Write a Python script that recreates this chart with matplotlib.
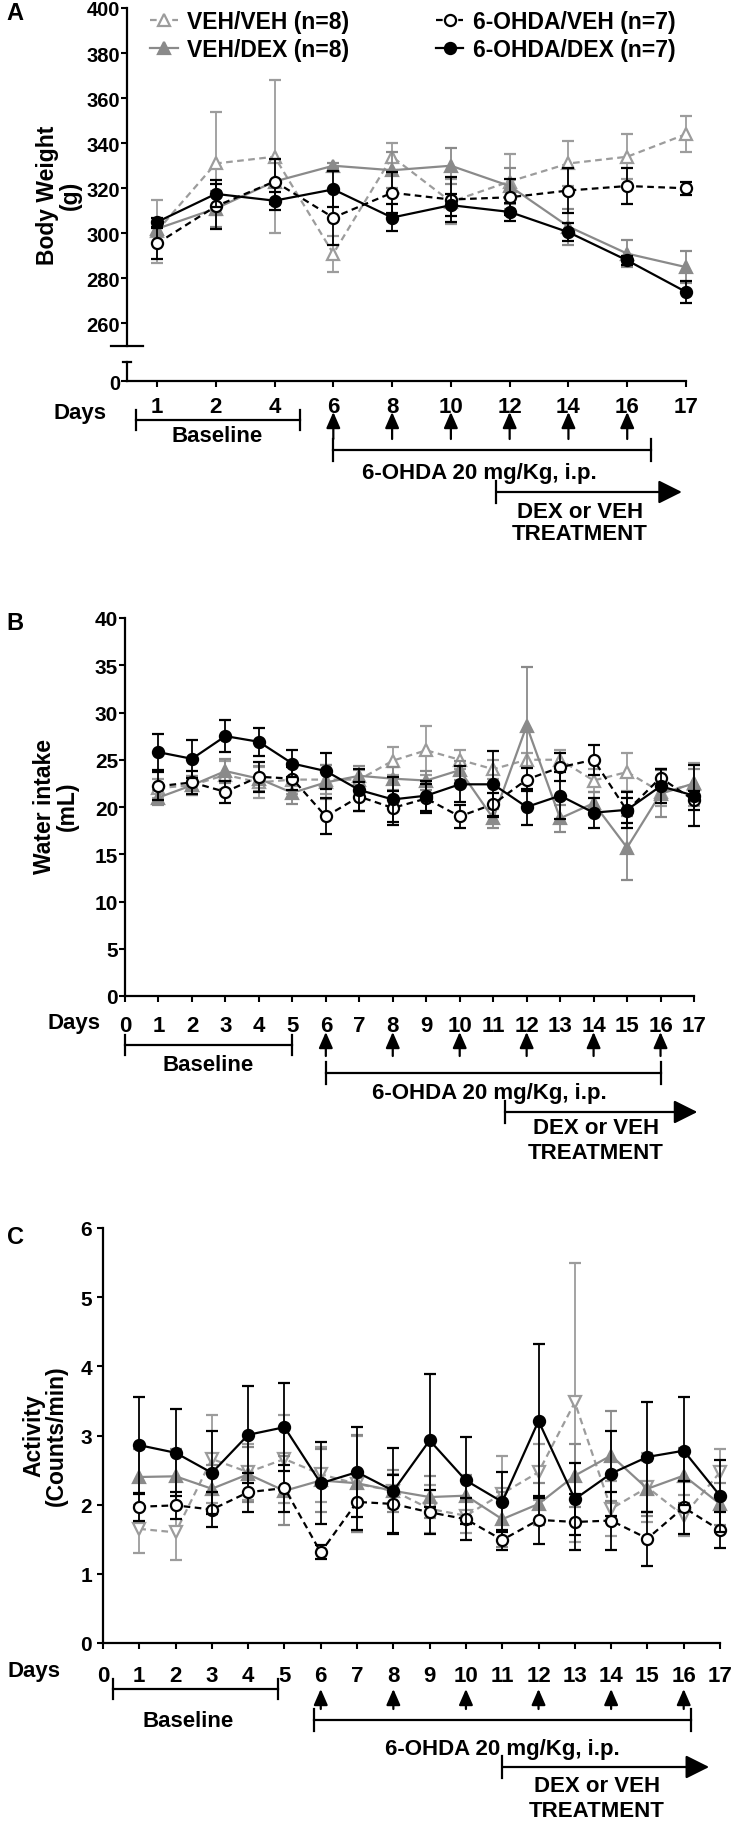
import matplotlib
matplotlib.use("Agg")
import matplotlib.pyplot as plt
from matplotlib.lines import Line2D

plt.rcParams['font.family'] = ['Liberation Sans', 'DejaVu Sans']
plt.rcParams['font.weight'] = 'bold'

# ---- data ----
labels = ['VEH/VEH (n=8)', 'VEH/DEX (n=8)', '6-OHDA/VEH (n=7)', '6-OHDA/DEX (n=7)']

# A: body weight (g)
days_a = [1, 2, 4, 6, 8, 10, 12, 14, 16, 17]
veh_veh_a = [301, 331, 334, 291, 334, 314, 323, 331, 334, 344]
veh_veh_a_err = [14, 23, 34, 8, 6, 10, 12, 10, 10, 8]
veh_dex_a = [302, 311, 323, 330, 328, 330, 321, 303, 291, 285]
veh_dex_a_err = [3, 8, 10, 1, 8, 8, 8, 8, 6, 7]
ohda_veh_a = [295.5, 312, 323, 307, 318, 315, 316, 319, 321, 320]
ohda_veh_a_err = [7, 10, 10, 12, 9, 10, 8, 10, 8, 3]
ohda_dex_a = [305, 317.5, 314.5, 319.5, 307, 312.5, 309.5, 300.5, 288, 274]
ohda_dex_a_err = [2, 6, 4, 8, 6, 5, 4, 4, 2, 5]

# B: water intake (mL)
days_b = list(range(1, 18))
veh_veh_b = [22.0, 22.3, 23.4, 22.6, 22.9, 22.9, 22.9, 24.9, 26.0, 25.0, 24.0, 25.0, 25.0, 22.8, 23.7, 21.6, 22.4]
veh_veh_b_err = [1.0, 1.0, 1.5, 1.6, 1.5, 1.5, 1.0, 1.5, 2.6, 1.0, 1.0, 0.7, 1.0, 1.2, 2.0, 1.5, 2.3]
veh_dex_b = [21.0, 22.3, 23.8, 23.0, 21.5, 22.6, 23.3, 23.0, 22.8, 23.9, 18.8, 28.6, 18.8, 20.4, 15.7, 21.4, 22.5]
veh_dex_b_err = [0.8, 1.0, 1.3, 1.3, 1.2, 1.8, 1.0, 1.2, 1.0, 1.0, 1.0, 6.2, 1.4, 1.2, 3.4, 2.5, 1.5]
ohda_veh_b = [22.2, 22.6, 21.6, 23.2, 23.0, 19.0, 21.1, 19.9, 20.9, 19.0, 20.3, 22.9, 24.2, 25.0, 19.6, 23.1, 20.7]
ohda_veh_b_err = [1.5, 1.2, 1.2, 1.6, 1.2, 1.9, 1.5, 1.8, 1.5, 1.2, 1.2, 1.2, 1.5, 1.6, 1.3, 0.9, 1.0]
ohda_dex_b = [25.8, 25.1, 27.5, 26.9, 24.6, 23.8, 21.8, 20.8, 21.2, 22.4, 22.4, 20.0, 21.2, 19.4, 19.7, 22.2, 21.2]
ohda_dex_b_err = [1.9, 2.0, 1.7, 1.5, 1.4, 1.9, 2.2, 2.4, 1.6, 1.9, 3.5, 1.9, 2.5, 1.6, 1.9, 1.8, 3.2]

# C: activity (counts/min)
days_c = list(range(1, 18))
veh_veh_c = [1.65, 1.60, 2.66, 2.47, 2.66, 2.44, 2.30, 2.20, 1.94, 1.84, 2.16, 2.47, 3.48, 1.94, 2.25, 1.84, 2.47]
veh_veh_c_err = [0.35, 0.40, 0.64, 0.40, 0.64, 0.40, 0.70, 0.25, 0.35, 0.25, 0.54, 0.40, 2.02, 0.40, 0.50, 0.30, 0.33]
veh_dex_c = [2.40, 2.41, 2.23, 2.44, 2.20, 2.35, 2.31, 2.20, 2.11, 2.13, 1.79, 2.01, 2.42, 2.71, 2.23, 2.42, 2.01]
veh_dex_c_err = [0.40, 0.40, 0.35, 0.40, 0.50, 0.45, 0.70, 0.30, 0.30, 0.30, 0.40, 0.30, 0.45, 0.65, 0.40, 0.40, 0.30]
ohda_veh_c = [1.97, 1.99, 1.93, 2.18, 2.24, 1.31, 2.04, 2.01, 1.89, 1.79, 1.49, 1.78, 1.75, 1.77, 1.51, 1.96, 1.63]
ohda_veh_c_err = [0.20, 0.20, 0.26, 0.28, 0.34, 0.10, 0.40, 0.42, 0.32, 0.30, 0.15, 0.35, 0.40, 0.42, 0.39, 0.38, 0.26]
ohda_dex_c = [2.86, 2.75, 2.46, 3.01, 3.12, 2.31, 2.47, 2.20, 2.93, 2.35, 2.04, 3.21, 2.08, 2.45, 2.69, 2.78, 2.13]
ohda_dex_c_err = [0.70, 0.63, 0.60, 0.70, 0.64, 0.59, 0.65, 0.62, 0.96, 0.63, 0.43, 1.12, 0.52, 0.61, 0.79, 0.78, 0.52]

GRAY1 = '#9c9c9c'   # VEH/VEH
GRAY2 = '#8a8a8a'   # VEH/DEX
DASH = (0, (3, 2))
TXT = 16             # annotation / x tick text size

W, H = 739, 1831
fig = plt.figure(figsize=(W / 100, H / 100), dpi=100)


def add_ax(l, t, r, b):
    # pixel box -> figure fraction
    return fig.add_axes([l / W, 1 - b / H, (r - l) / W, (b - t) / H])


def ftext(x, y, s, **kw):
    fig.text(x / W, 1 - y / H, s, ha='center', va='center', **kw)


def series(ax, x, y, err, color, marker, dashed, filled, z):
    eb = ax.errorbar(x, y, yerr=err, color=color, ls=DASH if dashed else '-', lw=1.6,
                     marker=marker, ms=8, mfc=color if filled else 'white', mec=color,
                     mew=1.6, ecolor=color, elinewidth=1.3, capsize=4, capthick=1.3, zorder=z)
    line, caps, bars = eb.lines
    for a in (line,) + caps + bars:
        a.set_clip_on(False)


def style(ax, ysize=15):
    for s in ['top', 'right']:
        ax.spines[s].set_visible(False)
    for s in ['left', 'bottom']:
        ax.spines[s].set_linewidth(1.6)
    ax.tick_params(width=1.5, length=4, direction='out')
    ax.tick_params(axis='y', labelsize=ysize, pad=1)
    ax.tick_params(axis='x', labelsize=TXT)


def draw_all(ax, x, sets, vv_marker='^'):
    vv, vv_e, vd, vd_e, ov, ov_e, od, od_e = sets
    series(ax, x, vv, vv_e, GRAY1, vv_marker, True, False, 3)
    series(ax, x, vd, vd_e, GRAY2, '^', False, True, 4)
    series(ax, x, ov, ov_e, 'black', 'o', True, False, 5)
    series(ax, x, od, od_e, 'black', 'o', False, True, 6)


def bracket(ann, x0, x1, y, half):
    ann.plot([x0, x1], [y, y], color='black', lw=1.6, clip_on=False)
    for xx in (x0, x1):
        ann.plot([xx, xx], [y - half, y + half], color='black', lw=1.6, clip_on=False)


def up_arrow(ann, x, tail, tip):
    ann.annotate('', xy=(x, tip), xytext=(x, tail), annotation_clip=False,
                 arrowprops=dict(arrowstyle='-|>,head_length=0.8,head_width=0.35',
                                 lw=1.6, color='black', shrinkA=0, shrinkB=0, mutation_scale=12))


def dex_arrow(ann, x0, x1, y, half):
    ann.plot([x0, x0], [y - half, y + half], color='black', lw=1.6, clip_on=False)
    ann.annotate('', xy=(x1, y), xytext=(x0, y), annotation_clip=False,
                 arrowprops=dict(arrowstyle='-|>,head_length=0.9,head_width=0.45',
                                 lw=1.6, color='black', shrinkA=0, shrinkB=0, mutation_scale=16))


def annotations(ann, base, arrows, ohda, dex):
    # base: (x0, x1, y, tx, ty); ohda: (x0, x1, y, tx, ty); dex: (x0, x1, y, tx, ty1, ty2)
    bracket(ann, base[0], base[1], base[2], 10)
    ann.text(base[3], base[4], 'Baseline', ha='center', va='center', fontsize=TXT)
    for x, tail, tip in arrows:
        up_arrow(ann, x, tail, tip)
    bracket(ann, ohda[0], ohda[1], ohda[2], 11)
    ann.text(ohda[3], ohda[4], '6-OHDA 20 mg/Kg, i.p.', ha='center', va='center', fontsize=TXT)
    dex_arrow(ann, dex[0], dex[1], dex[2], 11)
    ann.text(dex[3], dex[4], 'DEX or VEH', ha='center', va='center', fontsize=TXT)
    ann.text(dex[3], dex[5], 'TREATMENT', ha='center', va='center', fontsize=TXT)


# ================= Panel A =================
xa = list(range(len(days_a)))
xlim_a = (-0.51, len(days_a) - 1)
axA = add_ax(127, 9, 686, 347)
axA_low = add_ax(127, 363, 686, 382)
draw_all(axA, xa, (veh_veh_a, veh_veh_a_err, veh_dex_a, veh_dex_a_err,
                    ohda_veh_a, ohda_veh_a_err, ohda_dex_a, ohda_dex_a_err))
axA.set_xlim(*xlim_a)
axA.set_ylim(250, 400)
axA.set_yticks(range(260, 401, 20))
style(axA, 14.5)
axA.spines['bottom'].set_visible(False)
axA.set_xticks([])
axA.plot([-0.028, 0.028], [0, 0], transform=axA.transAxes, color='black', lw=1.6, clip_on=False)

axA_low.set_xlim(*xlim_a)
axA_low.set_ylim(0, 8.4)
axA_low.set_yticks([0])
axA_low.set_xticks(xa)
axA_low.set_xticklabels([str(d) for d in days_a])
style(axA_low, 14.5)
axA_low.tick_params(axis='x', pad=7)
axA_low.plot([-0.008, 0.008], [1, 1], transform=axA_low.transAxes, color='black', lw=1.6, clip_on=False)

handles = [
    Line2D([], [], color=GRAY1, ls=DASH, lw=1.6, marker='^', ms=8, mfc='white', mew=1.6),
    Line2D([], [], color=GRAY2, ls='-', lw=1.6, marker='^', ms=8, mew=1.6),
    Line2D([], [], color='black', ls=DASH, lw=1.6, marker='o', ms=8, mfc='white', mew=1.6),
    Line2D([], [], color='black', ls='-', lw=1.6, marker='o', ms=8, mew=1.6),
]
axA.legend(handles, labels, ncol=2, loc='upper left', bbox_to_anchor=(150 / W, 1 - 11 / H),
           bbox_transform=fig.transFigure, frameon=False, fontsize=16.5, handlelength=1.2,
           handletextpad=0.4, columnspacing=3.8, labelspacing=0.2, borderpad=0, borderaxespad=0)

ftext(59, 195, 'Body Weight\n(g)', rotation=90, fontsize=16.5, linespacing=1.0)
ftext(80, 413, 'Days', fontsize=TXT)
ftext(15, 14, 'A', fontsize=17)

annA = add_ax(127, 383, 686, 545)
annA.set_xlim(*xlim_a)
annA.set_ylim(545, 383)
annA.axis('off')
annotations(annA, (-0.36, 2.43, 421, 1.03, 437),
            [(i, 440, 413) for i in range(3, 9)],
            (3, 8.4, 451, 5.49, 474),
            (5.77, 8.93, 493, 7.19, 512, 535))

# ================= Panel B =================
axB = add_ax(125, 619, 694, 997)
draw_all(axB, days_b, (veh_veh_b, veh_veh_b_err, veh_dex_b, veh_dex_b_err,
                       ohda_veh_b, ohda_veh_b_err, ohda_dex_b, ohda_dex_b_err))
axB.set_xlim(0, 17)
axB.set_ylim(0, 40)
axB.set_yticks(range(0, 41, 5))
axB.set_xticks(range(0, 18))
style(axB, 15)
axB.tick_params(axis='x', pad=10)
ftext(56, 806, 'Water intake\n(mL)', rotation=90, fontsize=16.5, linespacing=1.0)
ftext(74, 1023, 'Days', fontsize=TXT)
ftext(15, 624, 'B', fontsize=17)

annB = add_ax(125, 998, 694, 1170)
annB.set_xlim(0, 17)
annB.set_ylim(1170, 998)
annB.axis('off')
annotations(annB, (0, 5, 1046, 2.48, 1066),
            [(d, 1057, 1033) for d in range(6, 17, 2)],
            (6, 16, 1074, 10.9, 1094),
            (11.35, 17.1, 1113, 14.07, 1129, 1154))

# ================= Panel C =================
axC = add_ax(103, 1229, 720, 1644)
draw_all(axC, days_c, (veh_veh_c, veh_veh_c_err, veh_dex_c, veh_dex_c_err,
                       ohda_veh_c, ohda_veh_c_err, ohda_dex_c, ohda_dex_c_err), vv_marker='v')
axC.set_xlim(0, 17)
axC.set_ylim(0, 6)
axC.set_yticks(range(0, 7))
axC.set_xticks(range(0, 18))
style(axC, 15)
axC.tick_params(axis='y', pad=4)
axC.tick_params(axis='x', pad=12)
ftext(45, 1436, 'Activity\n(Counts/min)', rotation=90, fontsize=16.5, linespacing=1.0)
ftext(34, 1672, 'Days', fontsize=TXT)
ftext(15, 1238, 'C', fontsize=17)

annC = add_ax(103, 1645, 720, 1831)
annC.set_xlim(0, 17)
annC.set_ylim(1831, 1645)
annC.axis('off')
annotations(annC, (0.28, 4.82, 1690, 2.34, 1722),
            [(d, 1710, 1690) for d in range(6, 17, 2)],
            (5.81, 16.2, 1721, 11.0, 1750),
            (11.0, 16.7, 1768, 13.6, 1787, 1812))

fig.savefig('out.png', dpi=100)
